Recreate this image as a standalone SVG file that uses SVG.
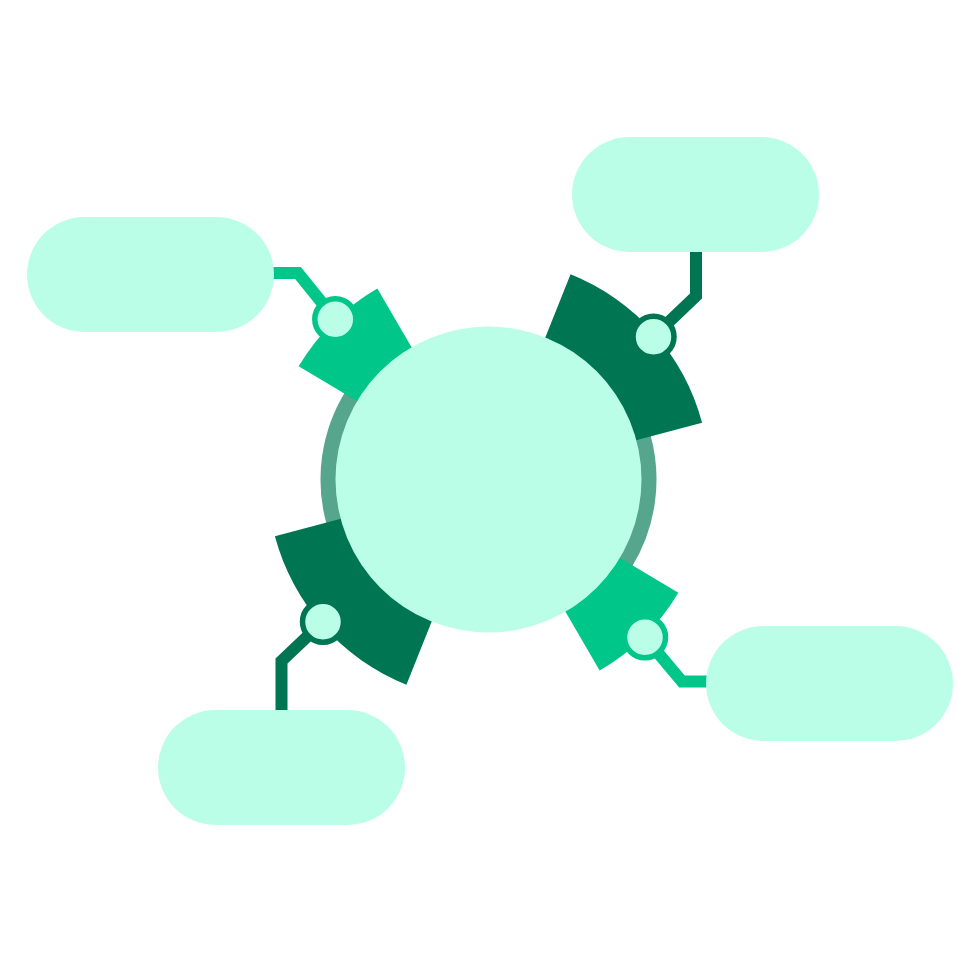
<svg xmlns="http://www.w3.org/2000/svg" width="980" height="980" viewBox="0 0 980 980">
<style>
.mint{fill:#BBFEE8}
.light{fill:#00C68A}
.dark{fill:#007552}
.ringc{fill:#55A68D}
.pill{fill:#BBFEE8}
.conn{fill:none;stroke-width:12;stroke-linejoin:miter}
.mk{fill:#BBFEE8;stroke-width:5.5}
</style>
<rect width="980" height="980" fill="#FFFFFF"/>
<g id="connectors">
<path class="conn" stroke="#00C68A" d="M 268 273 H 298 L 335.3 319.3"/>
<path class="conn" stroke="#007552" d="M 696 245 V 296 L 653.5 336.7"/>
<path class="conn" stroke="#007552" d="M 281.5 716 V 661 L 323 621.7"/>
<path class="conn" stroke="#00C68A" d="M 712 681.5 H 682 L 645 637.3"/>
</g>
<g id="ring">
<path class="ringc" d="M 488.5 479.5 L 327 525.8 A 168 168 0 0 1 346.04 390.48 Z"/>
<path class="ringc" d="M 488.5 479.5 L 650 433.2 A 168 168 0 0 1 630.96 568.52 Z"/>
</g>
<g id="sector-top-left">
<path class="light" d="M 488.5 479.5 L 298.66 366.35 A 221 221 0 0 1 377.34 288.49 Z"/>
<circle class="mk" stroke="#00C68A" cx="335.3" cy="319.3" r="20.5"/>
</g>
<g id="sector-top-right">
<path class="dark" d="M 488.5 479.5 L 570.58 274.3 A 221 221 0 0 1 702.07 422.68 Z"/>
<circle class="mk" stroke="#007552" cx="653.5" cy="336.7" r="20.5"/>
</g>
<g id="sector-bottom-left">
<path class="dark" d="M 488.5 479.5 L 406.42 684.7 A 221 221 0 0 1 274.93 536.32 Z"/>
<circle class="mk" stroke="#007552" cx="323" cy="621.7" r="20.5"/>
</g>
<g id="sector-bottom-right">
<path class="light" d="M 488.5 479.5 L 678.34 592.65 A 221 221 0 0 1 599.66 670.51 Z"/>
<circle class="mk" stroke="#00C68A" cx="645" cy="637.3" r="20.5"/>
</g>
<g id="center">
<circle class="mint" cx="488.5" cy="479.5" r="153"/>
</g>
<g id="pill-top-left">
<rect class="pill" x="27" y="217" width="247" height="115" rx="57.5"/>
</g>
<g id="pill-top-right">
<rect class="pill" x="572" y="137" width="247" height="115" rx="57.5"/>
</g>
<g id="pill-bottom-left">
<rect class="pill" x="158" y="710" width="247" height="115" rx="57.5"/>
</g>
<g id="pill-bottom-right">
<rect class="pill" x="706" y="626" width="247" height="115" rx="57.5"/>
</g>
</svg>
